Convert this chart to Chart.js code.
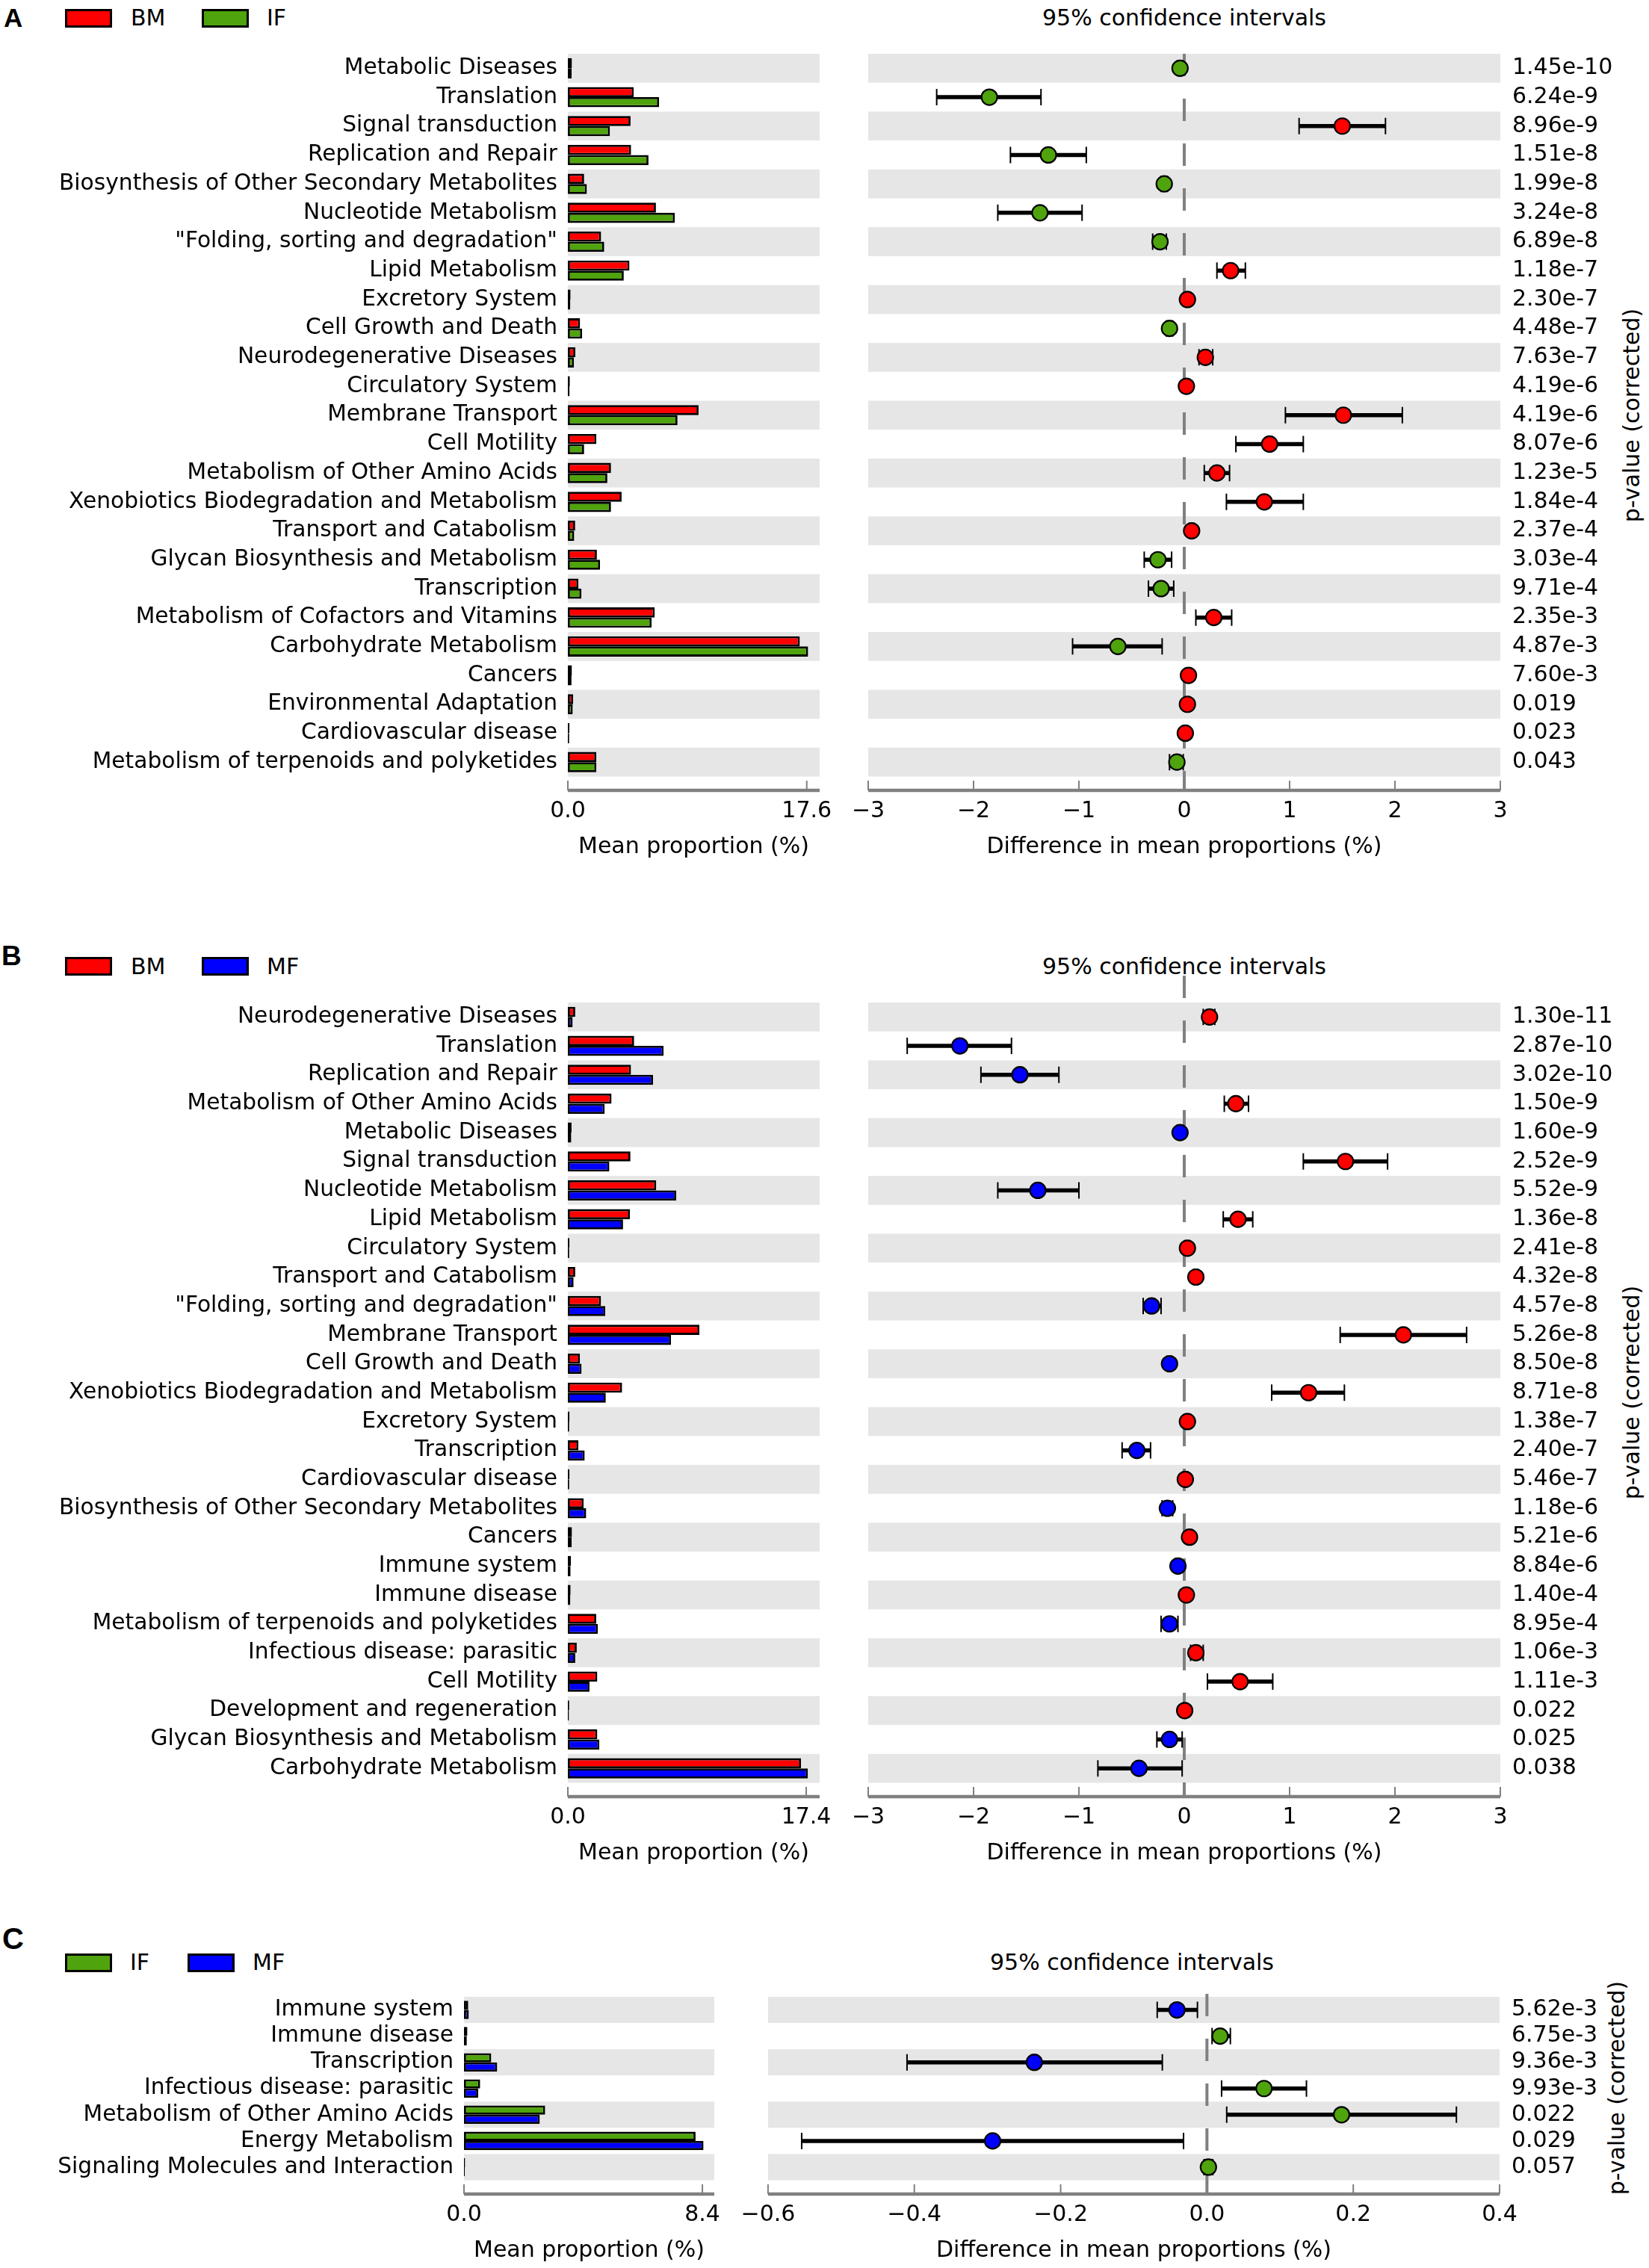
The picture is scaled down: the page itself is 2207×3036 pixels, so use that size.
<!DOCTYPE html>
<html lang="en">
<head>
<meta charset="UTF-8">
<title>Extended error bar plots</title>
<script src="https://cdn.jsdelivr.net/npm/chart.js"></script>
<style>
  html, body { margin: 0; padding: 0; background: #fff; }
  body { width: 2207px; height: 3036px; position: relative; overflow: hidden;
         font-family: "DejaVu Sans", sans-serif; color: #000; }
  canvas { position: absolute; }
  .txt { position: absolute; font-size: 30px; line-height: 36px; height: 36px; white-space: nowrap; }
  .ttl { position: absolute; width: 700px; text-align: center; font-size: 30px; line-height: 36px; white-space: nowrap; }
  .letter { position: absolute; font-family: "Liberation Sans", Arial, sans-serif; font-weight: bold; white-space: nowrap; }
  .box { position: absolute; width: 57px; height: 19px; border: 3px solid #000; }
  .plabel { position: absolute; font-size: 30px; line-height: 36px; white-space: nowrap;
            transform: translate(-50%, -50%) rotate(-90deg); }
</style>
</head>
<body>

<!-- panel A header -->
<div class="letter" style="left:5px;top:6px;font-size:35px;line-height:35px;">A</div>
<div class="box" style="left:87px;top:11.5px;background:#ff0000;"></div>
<div class="txt" style="left:175px;top:6px;">BM</div>
<div class="box" style="left:270px;top:11.5px;background:#4fa30c;"></div>
<div class="txt" style="left:357px;top:6px;">IF</div>
<div class="ttl" style="left:1235px;top:6px;">95% confidence intervals</div>
<div class="plabel" style="left:2184px;top:556px;">p-value (corrected)</div>

<!-- panel B header -->
<div class="letter" style="left:2px;top:1261px;font-size:37px;line-height:37px;">B</div>
<div class="box" style="left:87px;top:1281px;background:#ff0000;"></div>
<div class="txt" style="left:175px;top:1275.5px;">BM</div>
<div class="box" style="left:270px;top:1281px;background:#0000ff;"></div>
<div class="txt" style="left:357px;top:1275.5px;">MF</div>
<div class="ttl" style="left:1235px;top:1275.5px;">95% confidence intervals</div>
<div class="plabel" style="left:2184px;top:1864px;">p-value (corrected)</div>

<!-- panel C header -->
<div class="letter" style="left:3px;top:2575px;font-size:40px;line-height:40px;">C</div>
<div class="box" style="left:87px;top:2614.5px;background:#4fa30c;"></div>
<div class="txt" style="left:174px;top:2609px;">IF</div>
<div class="box" style="left:251px;top:2614.5px;background:#0000ff;"></div>
<div class="txt" style="left:338px;top:2609px;">MF</div>
<div class="ttl" style="left:1165px;top:2609px;">95% confidence intervals</div>
<div class="plabel" style="left:2164px;top:2795px;">p-value (corrected)</div>

<script>
// ---------- panel A : BM vs IF ----------
var catsA = ['Metabolic Diseases', 'Translation', 'Signal transduction', 'Replication and Repair',
  'Biosynthesis of Other Secondary Metabolites', 'Nucleotide Metabolism', '"Folding, sorting and degradation"',
  'Lipid Metabolism', 'Excretory System', 'Cell Growth and Death', 'Neurodegenerative Diseases',
  'Circulatory System', 'Membrane Transport', 'Cell Motility', 'Metabolism of Other Amino Acids',
  'Xenobiotics Biodegradation and Metabolism', 'Transport and Catabolism', 'Glycan Biosynthesis and Metabolism',
  'Transcription', 'Metabolism of Cofactors and Vitamins', 'Carbohydrate Metabolism', 'Cancers',
  'Environmental Adaptation', 'Cardiovascular disease', 'Metabolism of terpenoids and polyketides'];
var bmA = [0.3, 4.85, 4.62, 4.66, 1.2, 6.49, 2.45, 4.54, 0.2, 0.9, 0.55, 0.15, 9.63, 2.1, 3.18, 3.96, 0.54, 2.14, 0.78, 6.4, 17.09, 0.3, 0.39, 0.12, 2.1];
var ifA = [0.28, 6.72, 3.1, 5.94, 1.4, 7.88, 2.68, 4.12, 0.18, 1.05, 0.45, 0.13, 8.08, 1.2, 2.91, 3.18, 0.47, 2.37, 1.0, 6.17, 17.7, 0.27, 0.36, 0.1, 2.1];
var diffA = [-0.04, -1.85, 1.5, -1.29, -0.19, -1.37, -0.23, 0.44, 0.03, -0.14, 0.2, 0.02, 1.51, 0.81, 0.31, 0.76, 0.07, -0.25, -0.22, 0.28, -0.63, 0.04, 0.03, 0.01, -0.07];
var loA = [-0.06, -2.35, 1.09, -1.65, -0.22, -1.77, -0.3, 0.31, 0.01, -0.17, 0.14, 0.0, 0.96, 0.49, 0.19, 0.4, 0.05, -0.38, -0.34, 0.11, -1.06, 0.02, 0.01, -0.01, -0.14];
var hiA = [-0.02, -1.36, 1.91, -0.93, -0.16, -0.97, -0.17, 0.58, 0.05, -0.11, 0.27, 0.04, 2.07, 1.13, 0.43, 1.13, 0.09, -0.12, -0.1, 0.45, -0.21, 0.06, 0.05, 0.03, -0.01];
var pvalA = ['1.45e-10', '6.24e-9', '8.96e-9', '1.51e-8', '1.99e-8', '3.24e-8', '6.89e-8', '1.18e-7', '2.30e-7',
  '4.48e-7', '7.63e-7', '4.19e-6', '4.19e-6', '8.07e-6', '1.23e-5', '1.84e-4', '2.37e-4', '3.03e-4', '9.71e-4',
  '2.35e-3', '4.87e-3', '7.60e-3', '0.019', '0.023', '0.043'];

// ---------- panel B : BM vs MF ----------
var catsB = ['Neurodegenerative Diseases', 'Translation', 'Replication and Repair', 'Metabolism of Other Amino Acids',
  'Metabolic Diseases', 'Signal transduction', 'Nucleotide Metabolism', 'Lipid Metabolism', 'Circulatory System',
  'Transport and Catabolism', '"Folding, sorting and degradation"', 'Membrane Transport', 'Cell Growth and Death',
  'Xenobiotics Biodegradation and Metabolism', 'Excretory System', 'Transcription', 'Cardiovascular disease',
  'Biosynthesis of Other Secondary Metabolites', 'Cancers', 'Immune system', 'Immune disease',
  'Metabolism of terpenoids and polyketides', 'Infectious disease: parasitic', 'Cell Motility',
  'Development and regeneration', 'Glycan Biosynthesis and Metabolism', 'Carbohydrate Metabolism'];
var bmB = [0.54, 4.84, 4.61, 3.19, 0.27, 4.57, 6.45, 4.53, 0.12, 0.54, 2.42, 9.6, 0.88, 3.96, 0.12, 0.77, 0.12, 1.15, 0.3, 0.23, 0.2, 2.07, 0.65, 2.15, 0.1, 2.15, 17.02];
var mfB = [0.35, 6.99, 6.22, 2.69, 0.25, 3.03, 7.91, 4.03, 0.1, 0.42, 2.73, 7.53, 1.0, 2.77, 0.1, 1.23, 0.1, 1.34, 0.28, 0.2, 0.18, 2.19, 0.54, 1.58, 0.08, 2.3, 17.52];
var diffB = [0.24, -2.13, -1.56, 0.49, -0.04, 1.53, -1.39, 0.51, 0.03, 0.11, -0.31, 2.08, -0.14, 1.18, 0.03, -0.45, 0.01, -0.16, 0.05, -0.06, 0.02, -0.14, 0.11, 0.53, 0.004, -0.14, -0.43];
var loB = [0.18, -2.63, -1.93, 0.38, -0.06, 1.13, -1.77, 0.37, 0.01, 0.09, -0.39, 1.48, -0.16, 0.83, 0.01, -0.59, -0.01, -0.21, 0.03, -0.08, 0.0, -0.22, 0.06, 0.22, -0.01, -0.26, -0.82];
var hiB = [0.29, -1.64, -1.19, 0.61, -0.02, 1.93, -1.0, 0.65, 0.05, 0.13, -0.22, 2.68, -0.12, 1.52, 0.05, -0.32, 0.03, -0.11, 0.07, -0.04, 0.04, -0.06, 0.18, 0.84, 0.02, -0.02, -0.02];
var pvalB = ['1.30e-11', '2.87e-10', '3.02e-10', '1.50e-9', '1.60e-9', '2.52e-9', '5.52e-9', '1.36e-8', '2.41e-8',
  '4.32e-8', '4.57e-8', '5.26e-8', '8.50e-8', '8.71e-8', '1.38e-7', '2.40e-7', '5.46e-7', '1.18e-6', '5.21e-6',
  '8.84e-6', '1.40e-4', '8.95e-4', '1.06e-3', '1.11e-3', '0.022', '0.025', '0.038'];

// ---------- panel C : IF vs MF ----------
var catsC = ['Immune system', 'Immune disease', 'Transcription', 'Infectious disease: parasitic',
  'Metabolism of Other Amino Acids', 'Energy Metabolism', 'Signaling Molecules and Interaction'];
var ifC = [0.15, 0.12, 0.96, 0.57, 2.86, 8.16, 0.04];
var mfC = [0.17, 0.1, 1.17, 0.5, 2.67, 8.44, 0.03];
var diffC = [-0.041, 0.018, -0.236, 0.078, 0.184, -0.293, 0.002];
var loC = [-0.068, 0.007, -0.41, 0.02, 0.027, -0.554, -0.004];
var hiC = [-0.013, 0.032, -0.061, 0.136, 0.341, -0.032, 0.008];
var pvalC = ['5.62e-3', '6.75e-3', '9.36e-3', '9.93e-3', '0.022', '0.029', '0.057'];

// axis ticks
var diffTicksAB = [-3, -2, -1, 0, 1, 2, 3];
var diffTicksC = [-0.6, -0.4, -0.2, 0, 0.2, 0.4];
var barTickA = [0, 17.6];
var barTickB = [0, 17.4];
var barTickC = [0, 8.4];

Chart.defaults.font.family = "'DejaVu Sans', sans-serif";
Chart.defaults.font.size = 30;
Chart.defaults.color = '#000';

var RED = '#ff0000', GREEN = '#4fa30c', BLUE = '#0000ff';
var BAND = '#e6e6e6', AXIS_GRAY = '#808080';
var PAGE_W = 2207;

// row bands, zero line, CI whiskers and the bottom axis (ticks pointing up)
var stampPlugin = {
  id: 'stamp',
  beforeDatasetsDraw: function(chart, args, opts) {
    var ctx = chart.ctx, area = chart.chartArea;
    var xs = chart.scales.x, ys = chart.scales.y;
    var n = ys.getLabels().length;
    var rowH = (area.bottom - area.top) / n;
    var axisY = area.bottom + opts.axisGap;
    ctx.save();

    ctx.fillStyle = BAND;
    for (var i = 0; i < n; i += 2) {
      var yc = ys.getPixelForValue(i);
      ctx.fillRect(area.left, yc - rowH / 2, area.right - area.left, rowH);
    }

    if (opts.zeroLine) {
      var x0 = xs.getPixelForValue(0);
      ctx.strokeStyle = AXIS_GRAY;
      ctx.lineWidth = 4;
      ctx.setLineDash([30, 30]);
      ctx.beginPath();
      ctx.moveTo(x0, area.top + opts.zeroTop);
      ctx.lineTo(x0, axisY);
      ctx.stroke();
      ctx.setLineDash([]);
    }

    var ds = chart.data.datasets[0];
    if (ds.lo) {
      ctx.strokeStyle = '#000';
      for (var j = 0; j < ds.lo.length; j++) {
        var y = ys.getPixelForValue(j);
        var a = xs.getPixelForValue(ds.lo[j]);
        var b = xs.getPixelForValue(ds.hi[j]);
        ctx.lineWidth = 5.5;
        ctx.beginPath(); ctx.moveTo(a, y); ctx.lineTo(b, y); ctx.stroke();
        ctx.lineWidth = 2;
        ctx.beginPath();
        ctx.moveTo(a, y - 11); ctx.lineTo(a, y + 11);
        ctx.moveTo(b, y - 11); ctx.lineTo(b, y + 11);
        ctx.stroke();
      }
    }

    ctx.strokeStyle = AXIS_GRAY;
    ctx.lineWidth = 4.5;
    ctx.beginPath(); ctx.moveTo(area.left, axisY); ctx.lineTo(area.right, axisY); ctx.stroke();
    ctx.lineWidth = 2;
    xs.ticks.forEach(function(t) {
      var px = xs.getPixelForValue(t.value);
      ctx.beginPath(); ctx.moveTo(px, axisY); ctx.lineTo(px, axisY - 13); ctx.stroke();
    });
    ctx.restore();
  }
};

function makeCanvas(left, top, w, h) {
  var c = document.createElement('canvas');
  c.width = Math.round(w);
  c.height = Math.round(h);
  c.style.left = left + 'px';
  c.style.top = top + 'px';
  c.style.width = Math.round(w) + 'px';
  c.style.height = Math.round(h) + 'px';
  document.body.appendChild(c);
  return c;
}

var PAD_TOP = 40, X_AXIS_H = 112.5, AXIS_GAP = 18.5;

function noGrid() { return { display: false, drawTicks: false }; }

function fixTicks(list) {
  return function(s) { s.ticks = list.map(function(v) { return { value: v }; }); };
}

function minus(str) { return str.replace('-', '\u2212'); }

function buildPanel(p) {
  var rowsH = p.cats.length * p.rowH;
  var canvasTop = p.bandTop - PAD_TOP;
  var canvasH = PAD_TOP + rowsH + X_AXIS_H;

  // mean proportion bars
  var cb = makeCanvas(0, canvasTop, p.barRight + 60, canvasH);
  new Chart(cb, {
    type: 'bar',
    data: {
      labels: p.cats,
      datasets: [
        { label: p.name1, data: p.v1, backgroundColor: p.col1, borderColor: '#000', borderWidth: 2.8,
          borderSkipped: false, barPercentage: 1, categoryPercentage: 0.7 },
        { label: p.name2, data: p.v2, backgroundColor: p.col2, borderColor: '#000', borderWidth: 2.8,
          borderSkipped: false, barPercentage: 1, categoryPercentage: 0.7 }
      ]
    },
    options: {
      indexAxis: 'y',
      responsive: false,
      animation: false,
      events: [],
      layout: { padding: { top: PAD_TOP, right: 60, left: 0, bottom: 0 } },
      plugins: {
        legend: { display: false },
        tooltip: { enabled: false },
        stamp: { axisGap: AXIS_GAP, zeroLine: false }
      },
      scales: {
        y: {
          grid: noGrid(), border: { display: false },
          ticks: { padding: 14, autoSkip: false, font: { size: 29.7 } },
          afterFit: function(s) { s.width = p.barLeft; }
        },
        x: {
          min: 0, max: p.barMax,
          grid: noGrid(), border: { display: false },
          afterBuildTicks: fixTicks(p.barTicks),
          ticks: { padding: 28.5, maxRotation: 0, callback: function(v) { return v.toFixed(1); } },
          title: { display: true, text: 'Mean proportion (%)', padding: 0 },
          afterFit: function(s) { s.height = X_AXIS_H; }
        }
      }
    },
    plugins: [stampPlugin]
  });

  // difference with 95% CI
  var dotCanvasLeft = p.dotLeft - 60;
  var cd = makeCanvas(dotCanvasLeft, canvasTop, PAGE_W - dotCanvasLeft, canvasH);
  var pts = p.diff.map(function(d, i) { return { x: d, y: p.cats[i] }; });
  var cols = p.diff.map(function(d) { return d > 0 ? p.col1 : p.col2; });
  new Chart(cd, {
    type: 'scatter',
    data: {
      datasets: [{
        data: pts, lo: p.lo, hi: p.hi,
        pointRadius: 10.5, pointHoverRadius: 10.5, pointBorderWidth: 2.2,
        pointBorderColor: '#000', pointBackgroundColor: cols
      }]
    },
    options: {
      responsive: false,
      animation: false,
      events: [],
      layout: { padding: { top: PAD_TOP, left: 60, right: 0, bottom: 0 } },
      plugins: {
        legend: { display: false },
        tooltip: { enabled: false },
        stamp: { axisGap: AXIS_GAP, zeroLine: true, zeroTop: p.zeroTop }
      },
      scales: {
        x: {
          type: 'linear', min: p.dotMin, max: p.dotMax,
          grid: noGrid(), border: { display: false },
          afterBuildTicks: fixTicks(p.dotTicks),
          ticks: { padding: 28.5, maxRotation: 0,
                   callback: function(v) { return minus((Math.abs(v) < 1e-9 ? 0 : v).toFixed(p.dec)); } },
          title: { display: true, text: 'Difference in mean proportions (%)', padding: 0 },
          afterFit: function(s) { s.height = X_AXIS_H; }
        },
        y: { type: 'category', labels: p.cats, offset: true, display: false },
        p: {
          type: 'category', axis: 'y', position: 'right', labels: p.pvals, offset: true,
          grid: noGrid(), border: { display: false },
          ticks: { padding: 16, autoSkip: false },
          afterFit: function(s) { s.width = PAGE_W - p.dotRight; }
        }
      }
    },
    plugins: [stampPlugin]
  });
}

buildPanel({
  cats: catsA, v1: bmA, v2: ifA, name1: 'BM', name2: 'IF', col1: RED, col2: GREEN,
  diff: diffA, lo: loA, hi: hiA, pvals: pvalA,
  bandTop: 72, rowH: 38.7,
  barLeft: 760, barRight: 1097, barMax: 18.55, barTicks: barTickA,
  dotLeft: 1162, dotRight: 2008, dotMin: -3, dotMax: 3, dotTicks: diffTicksAB, dec: 0, zeroTop: 0
});

buildPanel({
  cats: catsB, v1: bmB, v2: mfB, name1: 'BM', name2: 'MF', col1: RED, col2: BLUE,
  diff: diffB, lo: loB, hi: hiB, pvals: pvalB,
  bandTop: 1342, rowH: 38.7,
  barLeft: 760, barRight: 1097, barMax: 18.38, barTicks: barTickB,
  dotLeft: 1162, dotRight: 2008, dotMin: -3, dotMax: 3, dotTicks: diffTicksAB, dec: 0, zeroTop: -36
});

buildPanel({
  cats: catsC, v1: ifC, v2: mfC, name1: 'IF', name2: 'MF', col1: GREEN, col2: BLUE,
  diff: diffC, lo: loC, hi: hiC, pvals: pvalC,
  bandTop: 2672.5, rowH: 35.1,
  barLeft: 621, barRight: 956, barMax: 8.82, barTicks: barTickC,
  dotLeft: 1023, dotRight: 2007, dotMin: -0.6, dotMax: 0.4, dotTicks: diffTicksC, dec: 1, zeroTop: -4
});
</script>
</body>
</html>
